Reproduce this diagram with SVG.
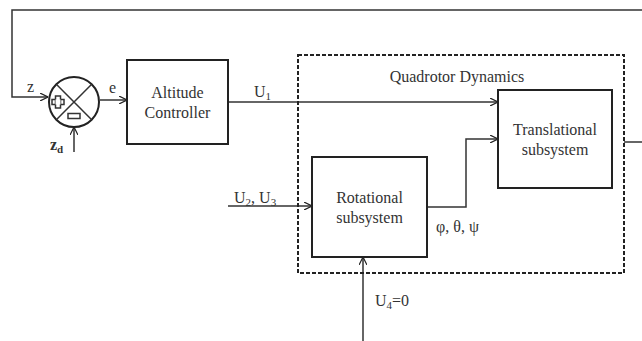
<svg xmlns="http://www.w3.org/2000/svg" width="642" height="341" viewBox="0 0 642 341">
<defs>
<marker id="arr" viewBox="0 0 10 10" refX="10" refY="5" markerWidth="8" markerHeight="8" markerUnits="userSpaceOnUse" orient="auto">
<path d="M0,0 L10,5 L0,10" fill="none" stroke="#222" stroke-width="1.5"/>
</marker>
<style>
.ln{fill:none;stroke:#333;stroke-width:1.5}
.box{fill:#fff;stroke:#222;stroke-width:2}
.t{font-family:"Liberation Serif",serif;font-size:16px;fill:#333}
.tc{font-family:"Liberation Serif",serif;font-size:16px;fill:#333;text-anchor:middle}
</style>
</defs>
<rect width="642" height="341" fill="#fff"/>
<g id="connectors">
<path class="ln" d="M642,10 L12,10 L12,97 L48,97" marker-end="url(#arr)"/>
<path class="ln" d="M74,152 L74,127" marker-end="url(#arr)"/>
<path class="ln" d="M100,100 L127,100" marker-end="url(#arr)"/>
<path class="ln" d="M228,102 L498,102" marker-end="url(#arr)"/>
<path class="ln" d="M427,207 L466,207 L466,139 L498,139" marker-end="url(#arr)"/>
<path class="ln" d="M228,206 L312,206" marker-end="url(#arr)"/>
<path class="ln" d="M363,341 L363,257" marker-end="url(#arr)"/>
<path class="ln" d="M624,142 L642,142"/>
</g>
<g id="quadrotor-dynamics">
<rect x="298" y="55" width="326" height="218" fill="none" stroke="#222" stroke-width="2" stroke-dasharray="4,2"/>
<text class="tc" x="457" y="82">Quadrotor Dynamics</text>
</g>
<g id="sum">
<circle cx="74" cy="102" r="25" fill="#fff" stroke="#222" stroke-width="2"/>
<path class="ln" d="M56.3,84.3 L91.7,119.7 M91.7,84.3 L56.3,119.7" stroke="#222"/>
<rect x="52" y="99.5" width="12" height="5" fill="#fff" stroke="#333" stroke-width="1.5"/>
<rect x="55.5" y="96" width="5" height="12" fill="#fff" stroke="#333" stroke-width="1.5"/>
<rect x="55.5" y="99.5" width="5" height="5" fill="#fff"/>
<rect x="68" y="113.5" width="12" height="5" fill="#fff" stroke="#333" stroke-width="1.5"/>
</g>
<g id="labels">
<text class="t" x="27" y="92">z</text>
<text class="t" x="50" y="150" font-weight="bold">z<tspan font-size="11" dy="3">d</tspan></text>
<text class="t" x="109" y="93">e</text>
<text class="t" x="254" y="97">U<tspan font-size="11" dy="3">1</tspan></text>
<text class="t" x="234" y="203">U<tspan font-size="11" dy="3">2</tspan><tspan dy="-3">, U</tspan><tspan font-size="11" dy="3">3</tspan></text>
<text class="t" x="436" y="232">φ, θ, ψ</text>
<text class="t" x="375" y="306">U<tspan font-size="11" dy="3">4</tspan><tspan dy="-3">=0</tspan></text>
</g>
<g id="altitude-controller">
<rect class="box" x="127" y="60" width="101" height="84"/>
<text class="tc" x="177.5" y="98">Altitude</text>
<text class="tc" x="177.5" y="118">Controller</text>
</g>
<g id="translational">
<rect class="box" x="498" y="90" width="114" height="98"/>
<text class="tc" x="555" y="135">Translational</text>
<text class="tc" x="555" y="155">subsystem</text>
</g>
<g id="rotational">
<rect class="box" x="312" y="157" width="115" height="100"/>
<text class="tc" x="369.5" y="203">Rotational</text>
<text class="tc" x="369.5" y="223">subsystem</text>
</g>
</svg>
